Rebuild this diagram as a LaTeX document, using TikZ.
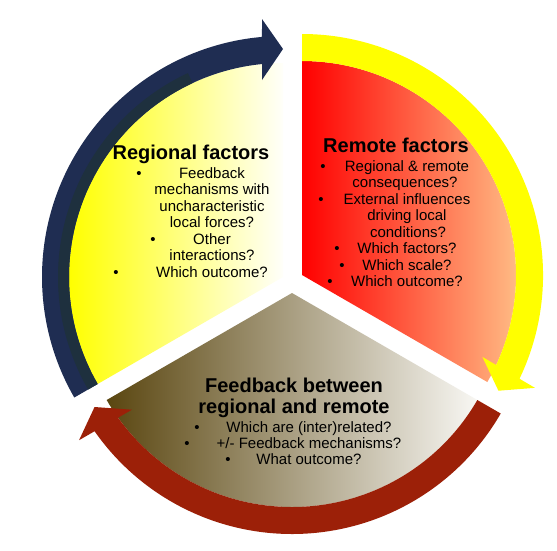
\documentclass[tikz,border=0pt]{standalone}
\usepackage{fontspec}
\setmainfont{Liberation Sans}
\usetikzlibrary{calc}
\definecolor{navy}{RGB}{31,45,82}
\definecolor{navydark}{RGB}{30,48,62}
\definecolor{arrowred}{RGB}{156,32,8}
\definecolor{arrowyellow}{RGB}{255,255,0}
\definecolor{regL}{RGB}{255,255,0}
\definecolor{regR}{RGB}{255,255,250}
\definecolor{remL}{RGB}{255,0,0}
\definecolor{remR}{RGB}{255,212,150}
\definecolor{fbL}{RGB}{90,70,16}
\definecolor{fbR}{RGB}{248,247,243}
\tikzset{
  title/.style={font=\bfseries\fontsize{20pt}{22pt}\selectfont, anchor=base, inner sep=0pt},
  body/.style={font=\fontsize{15pt}{16.5pt}\selectfont, anchor=base, inner sep=0pt},
  bul/.style={font=\fontsize{15pt}{16.5pt}\selectfont, anchor=base, inner sep=0pt},
}
\begin{document}
\begin{tikzpicture}[x=1pt,y=1pt]
\useasboundingbox (0,0) rectangle (557,-550);
\fill[white] (0,0) rectangle (557,-550);
\coordinate (c1) at (283,-277);
\coordinate (c2) at (302,-275);
\coordinate (c3) at (292,-293);
% sectors
\path[left color=regL,right color=regR] (c1) -- ($(c1)+(90:214pt)$) arc[start angle=90,end angle=210,radius=214pt] -- cycle;
\path[left color=remL,right color=remR] (c2) -- ($(c2)+(-30:214pt)$) arc[start angle=-30,end angle=90,radius=214pt] -- cycle;
\path[left color=fbL,right color=fbR] (c3) -- ($(c3)+(210:214pt)$) arc[start angle=210,end angle=330,radius=214pt] -- cycle;
% navy arrow (regional)
\fill[navy] ($(c1)+(210:214pt)$) arc[start angle=210,end angle=95.63,radius=214pt]
  -- ($(c1)+(90:197pt)+(180:21pt)$) -- ($(c1)+(90:228pt)$) -- ($(c1)+(90:258pt)+(180:21pt)$)
  -- ($(c1)+(95.0:241pt)$) arc[start angle=95.0,end angle=210,radius=241pt] -- cycle;
\fill[navydark] ($(c1)+(210:214pt)$) arc[start angle=210,end angle=115,radius=214pt]
  -- ($(c1)+(115:225pt)$) arc[start angle=115,end angle=210,radius=225pt] -- cycle;
% yellow arrow (remote)
\fill[arrowyellow] ($(c2)+(90:214pt)$) arc[start angle=90,end angle=-24.87,radius=214pt]
  -- ($(c2)+(-30.5:197pt)+(59.5:21pt)$) -- ($(c2)+(-30.5:228pt)$) -- ($(c2)+(-30.5:258pt)+(59.5:21pt)$)
  -- ($(c2)+(-25.5:241pt)$) arc[start angle=-25.5,end angle=90,radius=241pt] -- cycle;
% red arrow (feedback)
\fill[arrowred] ($(c3)+(330:214pt)$) arc[start angle=330,end angle=215.63,radius=214pt]
  -- ($(c3)+(210:197pt)+(300:21pt)$) -- ($(c3)+(210:228pt)$) -- ($(c3)+(210:258pt)+(300:21pt)$)
  -- ($(c3)+(215:241pt)$) arc[start angle=215,end angle=330,radius=241pt] -- cycle;
% Regional text
\node[title] (regT) at (191,-159) {Regional factors};
\node[bul] (regB1) at (139,-178) {•};
\node[body] (reg1a) at (212,-178) {Feedback};
\node[body] (reg1b) at (212,-194.5) {mechanisms with};
\node[body] (reg1c) at (212,-211) {uncharacteristic};
\node[body] (reg1d) at (212,-227.5) {local forces?};
\node[bul] (regB2) at (153,-244) {•};
\node[body] (reg2a) at (212,-244) {Other};
\node[body] (reg2b) at (212,-260.5) {interactions?};
\node[bul] (regB3) at (116,-277) {•};
\node[body] (reg3) at (212,-277) {Which outcome?};
% Remote text
\node[title] (remT) at (396,-152) {Remote factors};
\node[bul] (remB1) at (323,-171) {•};
\node[body] (rem1a) at (407,-171) {Regional \& remote};
\node[body] (rem1b) at (405,-187.5) {consequences?};
\node[bul] (remB2) at (321,-204) {•};
\node[body] (rem2a) at (407,-204) {External influences};
\node[body] (rem2b) at (407,-220.5) {driving local};
\node[body] (rem2c) at (408,-237) {conditions?};
\node[bul] (remB3) at (337,-253.5) {•};
\node[body] (rem3) at (407,-253.5) {Which factors?};
\node[bul] (remB4) at (342,-270) {•};
\node[body] (rem4) at (407,-270) {Which scale?};
\node[bul] (remB5) at (330,-286.5) {•};
\node[body] (rem5) at (407,-286.5) {Which outcome?};
% Feedback text
\node[title] (fbT1) at (294,-392) {Feedback between};
\node[title] (fbT2) at (294,-413) {regional and remote};
\node[bul] (fbB1) at (197,-432) {•};
\node[body] (fb1) at (309,-432) {Which are (inter)related?};
\node[bul] (fbB2) at (187,-448) {•};
\node[body] (fb2) at (309,-448) {+/- Feedback mechanisms?};
\node[bul] (fbB3) at (228,-464) {•};
\node[body] (fb3) at (309,-464) {What outcome?};
\end{tikzpicture}
\end{document}
